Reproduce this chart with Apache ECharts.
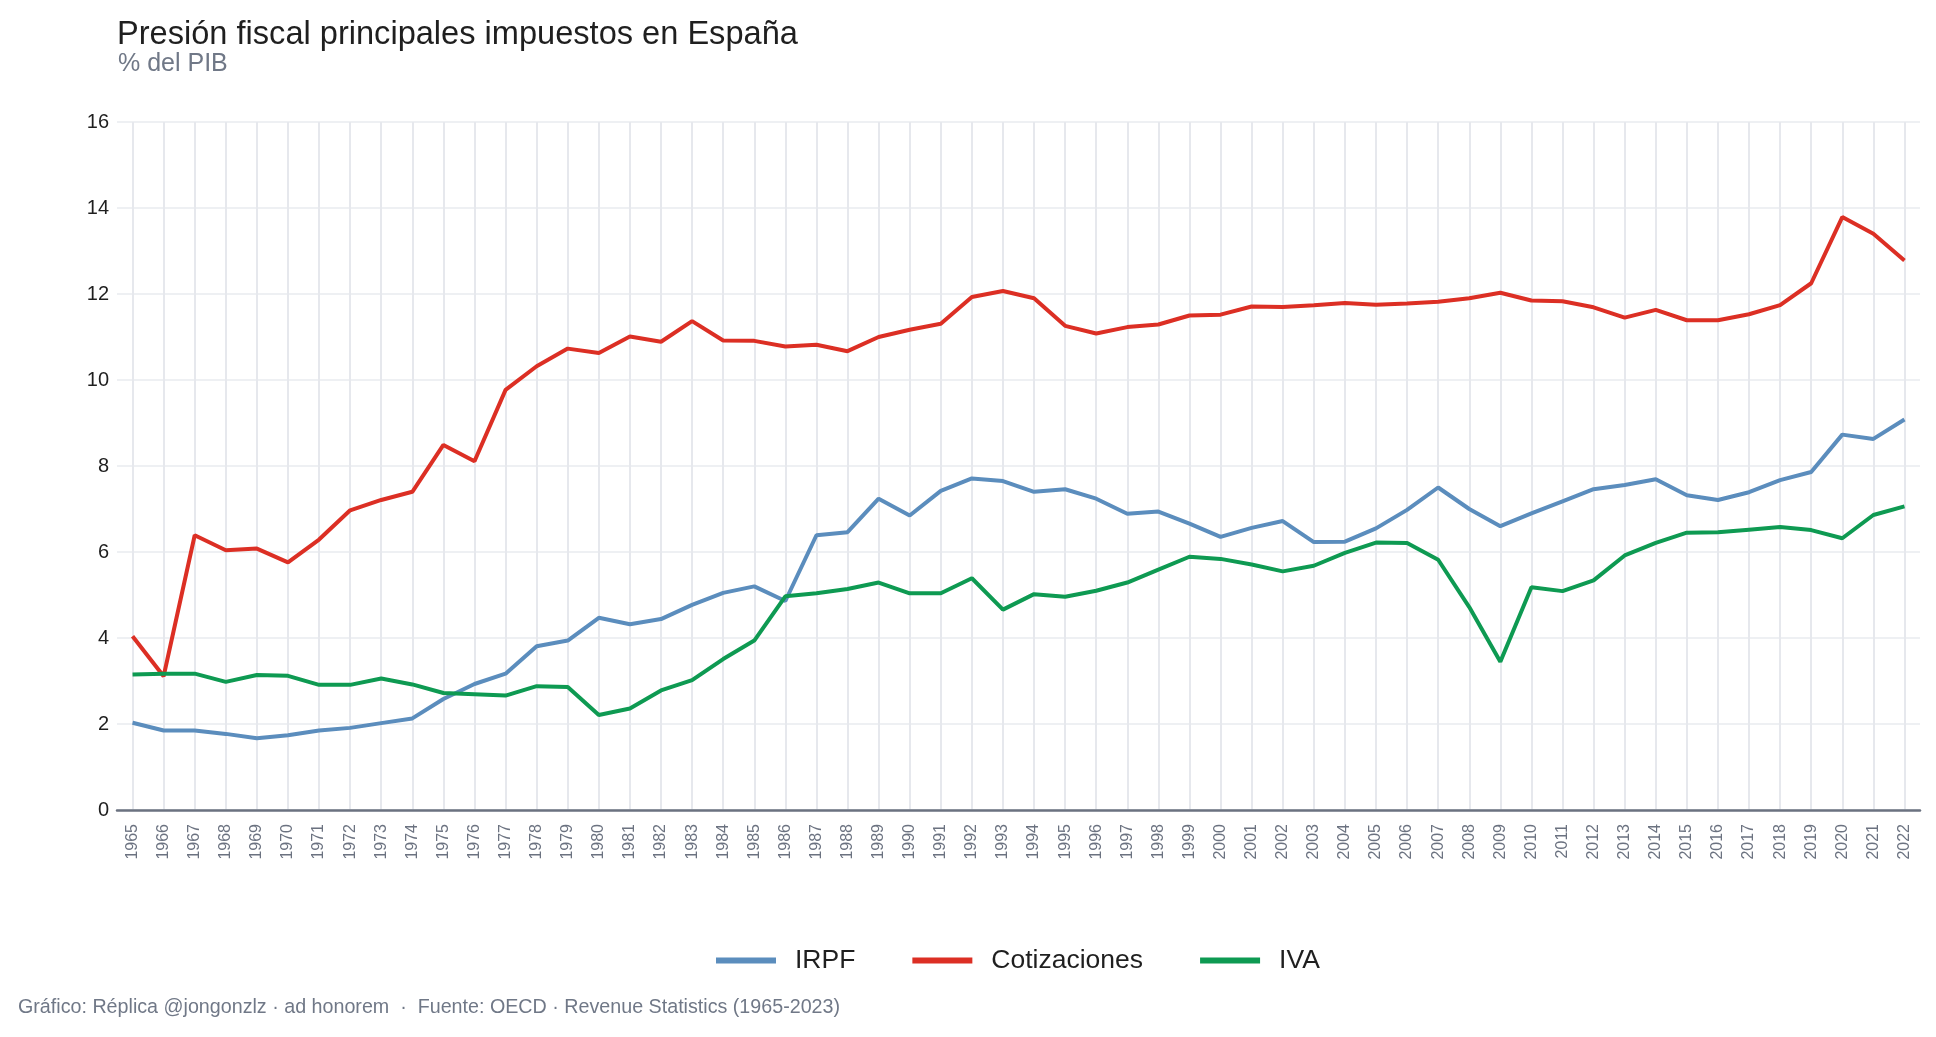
<!DOCTYPE html>
<html>
<head>
<meta charset="utf-8">
<title>Presión fiscal principales impuestos en España</title>
<script src="https://cdn.jsdelivr.net/npm/echarts@6/dist/echarts.min.js"></script>
<style>
  html, body { margin: 0; padding: 0; background: #fff; }
  #chart { width: 1936px; height: 1037px; }
</style>
</head>
<body>
<div id="chart"></div>
<script>
// años (eje x)
const years = [];
for (let y = 1965; y <= 2022; y++) years.push(String(y));

// % del PIB
const irpf = [
  2.03, 1.85, 1.85, 1.77, 1.67, 1.74, 1.85, 1.91, 2.02, 2.13,
  2.58, 2.93, 3.17, 3.81, 3.94, 4.47, 4.32, 4.44, 4.77, 5.05,
  5.20, 4.86, 6.39, 6.46, 7.24, 6.85, 7.42, 7.71, 7.65, 7.40,
  7.46, 7.24, 6.89, 6.94, 6.66, 6.35, 6.56, 6.72, 6.23, 6.24,
  6.55, 6.98, 7.50, 7.00, 6.60, 6.90, 7.18, 7.46, 7.56, 7.69,
  7.32, 7.21, 7.39, 7.67, 7.86, 8.73, 8.63, 9.08
];
const cotizaciones = [
  4.04, 3.11, 6.39, 6.04, 6.08, 5.76, 6.29, 6.97, 7.21, 7.40,
  8.49, 8.11, 9.77, 10.32, 10.73, 10.63, 11.01, 10.89, 11.37, 10.92,
  10.91, 10.78, 10.82, 10.67, 11.00, 11.17, 11.31, 11.93, 12.07, 11.90,
  11.26, 11.08, 11.23, 11.29, 11.50, 11.52, 11.71, 11.70, 11.74, 11.79,
  11.75, 11.78, 11.82, 11.90, 12.03, 11.85, 11.83, 11.69, 11.45, 11.63,
  11.39, 11.39, 11.53, 11.74, 12.25, 13.79, 13.40, 12.78
];
const iva = [
  3.15, 3.17, 3.17, 2.98, 3.14, 3.12, 2.91, 2.91, 3.06, 2.92,
  2.72, 2.69, 2.66, 2.88, 2.86, 2.21, 2.36, 2.78, 3.02, 3.51,
  3.94, 4.97, 5.04, 5.14, 5.29, 5.04, 5.04, 5.39, 4.66, 5.02,
  4.96, 5.10, 5.29, 5.59, 5.89, 5.84, 5.71, 5.55, 5.68, 5.98,
  6.22, 6.21, 5.82, 4.72, 3.45, 5.18, 5.09, 5.34, 5.92, 6.21,
  6.45, 6.46, 6.52, 6.58, 6.51, 6.32, 6.86, 7.06
];

const font = "'Liberation Sans', Arial, Helvetica, sans-serif";

const chart = echarts.init(document.getElementById('chart'), null, { renderer: 'canvas' });

chart.setOption({
  backgroundColor: '#ffffff',
  animation: false,
  color: ['#5b8dbd', '#dc2f24', '#0e9a52'],
  textStyle: { fontFamily: font },
  title: [
    {
      text: 'Presión fiscal principales impuestos en España',
      left: 117, top: 19, padding: 0,
      textStyle: { fontSize: 32.6, fontWeight: 'normal', color: '#1f1f1f', fontFamily: font }
    },
    {
      text: '% del PIB',
      left: 118, top: 52, padding: 0,
      textStyle: { fontSize: 25, fontWeight: 'normal', color: '#707887', fontFamily: font }
    },
    {
      text: 'Gráfico: Réplica @jongonzlz · ad honorem  ·  Fuente: OECD · Revenue Statistics (1965-2023)',
      left: 18, top: 998, padding: 0,
      textStyle: { fontSize: 19.7, fontWeight: 'normal', color: '#707887', fontFamily: font }
    }
  ],
  legend: {
    left: 716, top: 947, padding: 0,
    icon: 'rect',
    itemWidth: 60, itemHeight: 6,
    itemGap: 57,
    textStyle: { fontSize: 26.5, color: '#1f1f1f', fontFamily: font, padding: [0, 0, 0, 14] },
    data: ['IRPF', 'Cotizaciones', 'IVA']
  },
  grid: { left: 117, right: 16, top: 122, bottom: 227, containLabel: false },
  xAxis: {
    type: 'category',
    data: years,
    boundaryGap: true,
    axisLine: { show: true, lineStyle: { color: '#6b7280', width: 2.5 } },
    axisTick: { show: false },
    axisLabel: {
      interval: 0, rotate: 90, margin: 14,
      fontSize: 16, color: '#6b7280', fontFamily: font
    },
    splitLine: { show: true, interval: 0, alignWithLabel: true, lineStyle: { color: '#e6e8ed', width: 2 } }
  },
  yAxis: {
    type: 'value',
    min: 0, max: 16, interval: 2,
    axisLine: { show: false },
    axisTick: { show: false },
    axisLabel: { fontSize: 20, color: '#1f1f1f', margin: 8, fontFamily: font },
    splitLine: { show: true, lineStyle: { color: '#e9ebef', width: 1.5 } }
  },
  series: [
    { name: 'IRPF', type: 'line', data: irpf, showSymbol: false, lineStyle: { width: 4 }, z: 3 },
    { name: 'Cotizaciones', type: 'line', data: cotizaciones, showSymbol: false, lineStyle: { width: 4 }, z: 3 },
    { name: 'IVA', type: 'line', data: iva, showSymbol: false, lineStyle: { width: 4 }, z: 3 }
  ]
});
</script>
</body>
</html>
